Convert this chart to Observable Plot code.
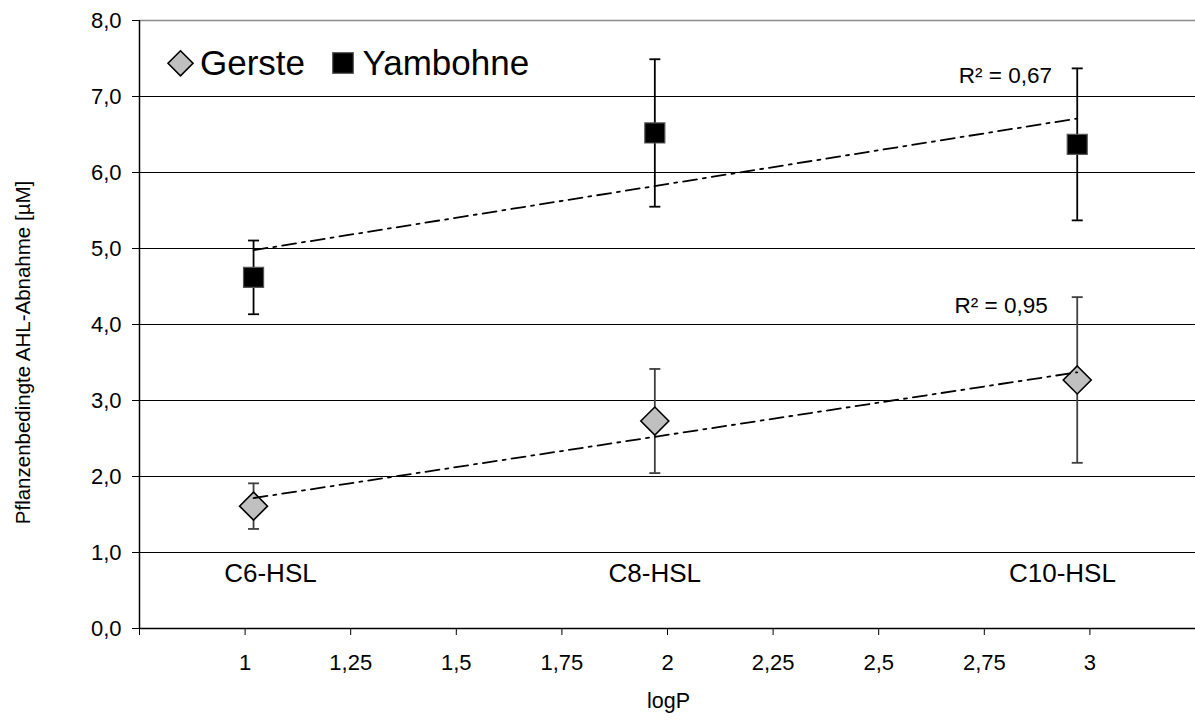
<!DOCTYPE html>
<html>
<head>
<meta charset="utf-8">
<script src="https://cdn.jsdelivr.net/npm/d3@7"></script>
<script src="https://cdn.jsdelivr.net/npm/@observablehq/plot@0.6"></script>
<style>
  html, body { margin: 0; padding: 0; background: #fff; }
  #wrap { position: relative; width: 1195px; height: 724px; font-family: "Liberation Sans", Arial, sans-serif; }
  #legend { position: absolute; left: 0; top: 0; pointer-events: none; }
</style>
</head>
<body>
<div id="wrap"></div>
<script>
// ---- data ----
const categories = ["C6-HSL", "C8-HSL", "C10-HSL"];
const logP = [1.02, 1.97, 2.97];
const gerste = [1.61, 2.73, 3.27];
const gersteErr = [0.30, 0.685, 1.09];
const yambohne = [4.62, 6.52, 6.37];
const yambohneErr = [0.485, 0.97, 1.0];
const seriesNames = ["Gerste", "Yambohne"];
const categoryLabelX = [1.06, 1.97, 2.935];
const categoryLabelY = 0.72;
const r2Labels = ["R² = 0,67", "R² = 0,95"];
const r2X = [2.80, 2.79];
const r2Y = [7.27, 4.245];
const xTicks = [0.75, 1, 1.25, 1.5, 1.75, 2, 2.25, 2.5, 2.75, 3];
const yTicks = [0, 1, 2, 3, 4, 5, 6, 7, 8];
const xDomain = [0.75, 3.25];
const yDomain = [0, 8];
const xLabel = "logP";
const yLabel = "Pflanzenbedingte AHL-Abnahme [µM]";

// ---- build rows ----
const rows = [];
categories.forEach((c, i) => {
  rows.push({series: "Gerste", cat: c, logP: logP[i], value: gerste[i], lo: gerste[i] - gersteErr[i], hi: gerste[i] + gersteErr[i]});
  rows.push({series: "Yambohne", cat: c, logP: logP[i], value: yambohne[i], lo: yambohne[i] - yambohneErr[i], hi: yambohne[i] + yambohneErr[i]});
});
const gRows = rows.filter(d => d.series === "Gerste");
const yRows = rows.filter(d => d.series === "Yambohne");
const catRows = categories.map((c, i) => ({label: c, x: categoryLabelX[i], y: categoryLabelY}));
const r2Rows = r2Labels.map((t, i) => ({label: t, x: r2X[i], y: r2Y[i]}));

const capSymbol = {draw(ctx) { ctx.moveTo(-5.5, 0); ctx.lineTo(5.5, 0); }};
const errColor = s => s === "Gerste" ? "#404040" : "#000";
const fmtX = d => d === 0.75 ? "" : String(d).replace(".", ",");
const fmtY = d => d.toFixed(1).replace(".", ",");

const font = "Liberation Sans, Arial, sans-serif";

const chart = Plot.plot({
  width: 1195,
  height: 724,
  marginTop: 20,
  marginBottom: 96,
  marginLeft: 139,
  marginRight: 0,
  style: {fontFamily: font, fontSize: "22px", color: "#000", background: "#fff"},
  x: {domain: xDomain, ticks: xTicks, tickFormat: fmtX, tickSize: 7, tickPadding: 19, label: null},
  y: {domain: yDomain, ticks: yTicks, tickFormat: fmtY, tickSize: 7, tickPadding: 11, label: null},
  marks: [
    Plot.ruleY(yTicks.filter(d => d > 0 && d < yDomain[1]), {stroke: "#000", strokeWidth: 1}),
    Plot.ruleY([yDomain[1]], {stroke: "#8c8c8c", strokeWidth: 1.5}),
    Plot.ruleY([yDomain[0]], {stroke: "#000", strokeWidth: 1.5}),
    Plot.ruleX([xDomain[0]], {stroke: "#000", strokeWidth: 1.5}),
    // error bars
    Plot.ruleX(rows, {x: "logP", y1: "lo", y2: "hi", stroke: d => errColor(d.series), strokeWidth: 1.8}),
    Plot.dot(rows, {x: "logP", y: "hi", symbol: capSymbol, r: 5, fill: "none", stroke: d => errColor(d.series), strokeWidth: 1.8}),
    Plot.dot(rows, {x: "logP", y: "lo", symbol: capSymbol, r: 5, fill: "none", stroke: d => errColor(d.series), strokeWidth: 1.8}),
    // markers
    Plot.dot(yRows, {x: "logP", y: "value", symbol: "square", r: 11.3, fill: "#000", stroke: "#555", strokeWidth: 1.2}),
    Plot.dot(gRows, {x: "logP", y: "value", symbol: "diamond2", r: 12.6, fill: "#c0c0c0", stroke: "#000", strokeWidth: 1.6}),
    // trend lines
    Plot.linearRegressionY(rows, {x: "logP", y: "value", z: "series", stroke: "#000", ci: 0, strokeWidth: 1.8, strokeDasharray: "14,6,3,6"}),
    // annotations
    Plot.text(catRows, {x: "x", y: "y", text: "label", fontSize: 26, fill: "#000"}),
    Plot.text(r2Rows, {x: "x", y: "y", text: "label", fontSize: 22.5, fill: "#000"}),
    Plot.text([yLabel], {frameAnchor: "left", textAnchor: "middle", dx: -116, dy: 28, rotate: -90, fontSize: 20.5, fill: "#000"}),
    Plot.text([xLabel], {frameAnchor: "bottom", textAnchor: "middle", dx: 1, dy: 79, fontSize: 21.5, fill: "#000"})
  ]
});

const wrap = document.getElementById("wrap");
wrap.appendChild(chart);

// legend overlay
const legendItems = [
  {name: seriesNames[0], cx: 180.5, tx: 200, shape: "diamond"},
  {name: seriesNames[1], cx: 343, tx: 362.5, shape: "square"}
];
const ns = "http://www.w3.org/2000/svg";
const leg = document.createElementNS(ns, "svg");
leg.setAttribute("id", "legend");
leg.setAttribute("width", 1195);
leg.setAttribute("height", 724);
legendItems.forEach(it => {
  let shape;
  if (it.shape === "diamond") {
    shape = document.createElementNS(ns, "polygon");
    const c = it.cx, cy = 63.3, h = 12.5;
    shape.setAttribute("points", `${c},${cy - h} ${c + h},${cy} ${c},${cy + h} ${c - h},${cy}`);
    shape.setAttribute("fill", "#c0c0c0");
    shape.setAttribute("stroke", "#000");
    shape.setAttribute("stroke-width", 1.6);
  } else {
    shape = document.createElementNS(ns, "rect");
    shape.setAttribute("x", it.cx - 10.3);
    shape.setAttribute("y", 63 - 10.3);
    shape.setAttribute("width", 20.6);
    shape.setAttribute("height", 20.6);
    shape.setAttribute("fill", "#000");
    shape.setAttribute("stroke", "#555");
    shape.setAttribute("stroke-width", 1.2);
  }
  leg.appendChild(shape);
  const t = document.createElementNS(ns, "text");
  t.setAttribute("x", it.tx);
  t.setAttribute("y", 75);
  t.setAttribute("font-size", 35);
  t.setAttribute("font-family", font);
  t.setAttribute("fill", "#000");
  t.textContent = it.name;
  leg.appendChild(t);
});
wrap.appendChild(leg);
</script>
</body>
</html>
